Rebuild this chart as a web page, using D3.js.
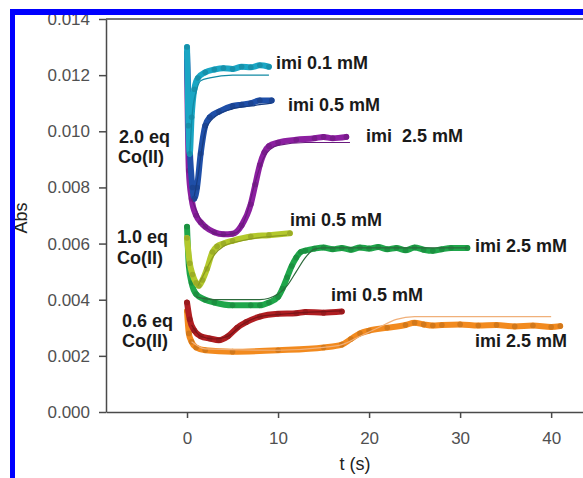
<!DOCTYPE html>
<html>
<head>
<meta charset="utf-8">
<script src="https://cdn.jsdelivr.net/npm/d3@7"></script>
<style>
  html, body { margin: 0; padding: 0; background: #fff; }
  svg { display: block; font-family: Arial, "Liberation Sans", sans-serif; }
  .axis path, .axis line { stroke: #4a4a4a; stroke-width: 1.5; }
  .axis text { fill: #505050; font-size: 17px; }
  .note { fill: #1a1a1a; font-size: 18px; font-weight: bold; white-space: pre; }
</style>
</head>
<body>
<div id="chart"></div>
<script>
// ---- Data --------------------------------------------------------------
const xTicks = [0, 10, 20, 30, 40];
const yTicks = [0, 0.002, 0.004, 0.006, 0.008, 0.010, 0.012, 0.014];

// 2.0 eq Co(II)
const cyanData = [[0, 0.0130], [0.15, 0.0102], [0.3, 0.0092], [0.5, 0.0105], [0.8, 0.0115], [1.2, 0.0119], [2, 0.0121], [3, 0.0122], [4, 0.01225], [5, 0.01222], [6, 0.0123], [7, 0.01228], [8, 0.01235], [9, 0.0123]];
const cyanFit = [[0.3, 0.0092], [0.6, 0.0107], [1, 0.0114], [1.5, 0.0118], [2.5, 0.0119], [5, 0.0120], [9, 0.0120]];
const blueData = [[0, 0.0128], [0.3, 0.0094], [0.6, 0.0080], [0.8, 0.0076], [1.1, 0.0080], [1.5, 0.0092], [2, 0.0102], [2.5, 0.0105], [3.5, 0.0107], [5, 0.0109], [6, 0.01095], [7, 0.0110], [8, 0.0111], [9.3, 0.0111]];
const blueFit = [[0.8, 0.0077], [1.2, 0.0084], [1.6, 0.0093], [2, 0.0100], [3, 0.0105], [5, 0.0108], [7, 0.0109], [9.3, 0.0110]];
const purpleData = [[0, 0.0125], [0.2, 0.0086], [0.5, 0.0076], [1, 0.0070], [1.5, 0.00676], [2, 0.0066], [3, 0.0064], [4, 0.00633], [5, 0.00635], [6, 0.00665], [7, 0.0074], [7.5, 0.0081], [8, 0.0088], [8.5, 0.00925], [9, 0.00947], [10, 0.0096], [12, 0.0097], [14, 0.00975], [15, 0.0098], [16, 0.00975], [17.5, 0.0098]];
const purpleFit = [[0.5, 0.0076], [2, 0.0066], [4, 0.0063], [5.5, 0.0064], [6.5, 0.0070], [7.5, 0.0082], [8.5, 0.0091], [10, 0.0095], [13, 0.0096], [17.9, 0.0096]];

// 1.0 eq Co(II)
const yellowData = [[0, 0.0062], [0.3, 0.0053], [0.6, 0.0049], [1, 0.0046], [1.3, 0.0045], [1.7, 0.0047], [2.2, 0.0051], [2.8, 0.0057], [3.3, 0.0059], [4, 0.0060], [5, 0.0061], [7, 0.00625], [9, 0.0063], [11.3, 0.00637]];
const yellowFit = [[1.2, 0.0045], [2, 0.0050], [3, 0.0056], [4, 0.0059], [6, 0.0061], [11, 0.0063]];
const greenData = [[0, 0.0066], [0.2, 0.0052], [0.5, 0.0046], [1, 0.0042], [2, 0.0040], [3, 0.0039], [5, 0.0038], [7, 0.0038], [8, 0.0038], [9, 0.0039], [10, 0.0041], [10.5, 0.0044], [11, 0.0048], [11.5, 0.0052], [12, 0.0055], [12.5, 0.0057], [13, 0.00575], [14, 0.00582], [15, 0.00586], [16, 0.0058], [17, 0.00584], [18, 0.00578], [19, 0.00586], [20, 0.00582], [21, 0.00588], [22, 0.0058], [23, 0.00584], [24, 0.00576], [25, 0.00586], [26, 0.00578], [27, 0.00574], [28, 0.0058], [29, 0.00584], [30.8, 0.00584]];
const greenFit = [[1, 0.0041], [3, 0.0040], [6, 0.0040], [8, 0.0040], [10, 0.0042], [11, 0.0045], [12, 0.0050], [13, 0.0055], [14, 0.0058], [15, 0.00585], [30.8, 0.00585]];

// 0.6 eq Co(II)
const redData = [[0, 0.0039], [0.3, 0.0033], [0.8, 0.0029], [1.5, 0.0027], [2.5, 0.00262], [3.5, 0.00256], [4.5, 0.0027], [5.5, 0.0030], [6.5, 0.0032], [8, 0.0034], [10, 0.0035], [12, 0.00352], [13, 0.00356], [15, 0.00354], [17, 0.00358]];
const redFit = [[0.5, 0.0031], [1.5, 0.0027], [3, 0.0026], [4.5, 0.0027], [6, 0.0031], [8, 0.0034], [11, 0.0035], [17, 0.0036]];
const orangeData = [[0, 0.0036], [0.2, 0.0028], [0.5, 0.0025], [1, 0.0023], [2, 0.0022], [5, 0.00215], [10, 0.0022], [15, 0.0023], [17, 0.0024], [18, 0.0026], [19, 0.0028], [20, 0.0029], [22, 0.0030], [24, 0.0031], [25, 0.00318], [26, 0.00312], [27, 0.00308], [28, 0.0031], [30, 0.00312], [32, 0.00308], [34, 0.0031], [36, 0.00305], [38, 0.00308], [40, 0.00303], [41, 0.00306]];
const orangeFit = [[0.5, 0.0025], [2, 0.00225], [10, 0.0022], [15, 0.0023], [17, 0.0024], [19, 0.0027], [21, 0.0030], [23, 0.0033], [25, 0.0034], [40, 0.0034]];

const series = [
  { data: orangeData, fit: orangeFit, color: '#f28a1e', fitColor: '#f0b07a' },
  { data: redData, fit: redFit, color: '#b01e22', fitColor: '#7a1418' },
  { data: greenData, fit: greenFit, color: '#1fa64a', fitColor: '#2d6a3c' },
  { data: yellowData, fit: yellowFit, color: '#b3c82c', fitColor: '#8a9a20' },
  { data: purpleData, fit: purpleFit, color: '#8c1fa0', fitColor: '#6a1a7e' },
  { data: blueData, fit: blueFit, color: '#1f4fa8', fitColor: '#173c80' },
  { data: cyanData, fit: cyanFit, color: '#1aa6c4', fitColor: '#128aa4' }
];

const notes = [
  { text: 'imi 0.1 mM', x: 276, y: 69 },
  { text: 'imi 0.5 mM', x: 288, y: 111 },
  { text: 'imi  2.5 mM', x: 366, y: 142 },
  { text: '2.0 eq', x: 119, y: 143 },
  { text: 'Co(II)', x: 118, y: 163 },
  { text: 'imi 0.5 mM', x: 290, y: 226 },
  { text: '1.0 eq', x: 117, y: 243 },
  { text: 'Co(II)', x: 117, y: 264 },
  { text: 'imi 2.5 mM', x: 475, y: 252 },
  { text: 'imi 0.5 mM', x: 331, y: 301 },
  { text: '0.6 eq', x: 122, y: 327 },
  { text: 'Co(II)', x: 122, y: 347 },
  { text: 'imi 2.5 mM', x: 475, y: 347 }
];

// ---- Canvas ---------------------------------------------------------------
const width = 583, height = 478;
const svg = d3.select('#chart').append('svg')
  .attr('width', width)
  .attr('height', height);

// ---- Scales ---------------------------------------------------------------
const x = d3.scaleLinear().domain([-8.9, 43.5]).range([106, 583]);
const y = d3.scaleLinear().domain([0, 0.014]).range([412, 19]);

// ---- Frame + axes -----------------------------------------------------
svg.append('line')
  .attr('x1', 106).attr('x2', 583).attr('y1', 19).attr('y2', 19)
  .attr('stroke', '#4a4a4a').attr('stroke-width', 1.5);

svg.append('g')
  .classed('axis', true)
  .attr('transform', 'translate(0,412)')
  .call(d3.axisBottom(x).tickValues(xTicks).tickSize(6).tickPadding(14).tickSizeOuter(0));

svg.append('g')
  .classed('axis', true)
  .attr('transform', 'translate(106,0)')
  .call(d3.axisLeft(y).tickValues(yTicks).tickSize(7).tickPadding(9).tickSizeOuter(0)
    .tickFormat(d3.format('.3f')));

svg.append('text')
  .attr('transform', 'translate(27,218) rotate(-90)')
  .attr('text-anchor', 'middle')
  .attr('fill', '#222')
  .style('font-size', '18px')
  .text('Abs');

svg.append('text')
  .attr('x', 355).attr('y', 470)
  .attr('text-anchor', 'middle')
  .attr('fill', '#222')
  .style('font-size', '18px')
  .text('t (s)');

// ---- Traces -------------------------------------------------------------
const line = d3.line()
  .x(d => x(d[0]))
  .y(d => y(d[1]))
  .curve(d3.curveMonotoneX);

series.forEach(s => {
  svg.append('path')
    .attr('d', line(s.data))
    .attr('fill', 'none')
    .attr('stroke', s.color)
    .attr('stroke-width', 6)
    .attr('stroke-linejoin', 'round')
    .attr('stroke-linecap', 'round');
  svg.append('g')
    .selectAll('circle')
    .data(s.data)
    .join('circle')
    .attr('cx', d => x(d[0]))
    .attr('cy', d => y(d[1]))
    .attr('r', 2.8)
    .attr('fill', d3.color(s.color).darker(0.4));
});

series.forEach(s => {
  svg.append('path')
    .attr('d', line(s.fit))
    .attr('fill', 'none')
    .attr('stroke', s.fitColor)
    .attr('stroke-width', 1.2);
});

// ---- Annotations --------------------------------------------------------
svg.append('g')
  .selectAll('text')
  .data(notes)
  .join('text')
  .classed('note', true)
  .attr('x', d => d.x)
  .attr('y', d => d.y)
  .text(d => d.text);

// ---- Blue border --------------------------------------------------------
svg.append('rect').attr('x', 0).attr('y', 0).attr('width', width).attr('height', 9).attr('fill', '#fff');
svg.append('rect').attr('x', 0).attr('y', 0).attr('width', 10).attr('height', height).attr('fill', '#fff');
svg.append('rect').attr('x', 10).attr('y', 9).attr('width', width - 10).attr('height', 6).attr('fill', '#0000ff');
svg.append('rect').attr('x', 10).attr('y', 9).attr('width', 5).attr('height', height - 9).attr('fill', '#0000ff');
</script>
</body>
</html>
